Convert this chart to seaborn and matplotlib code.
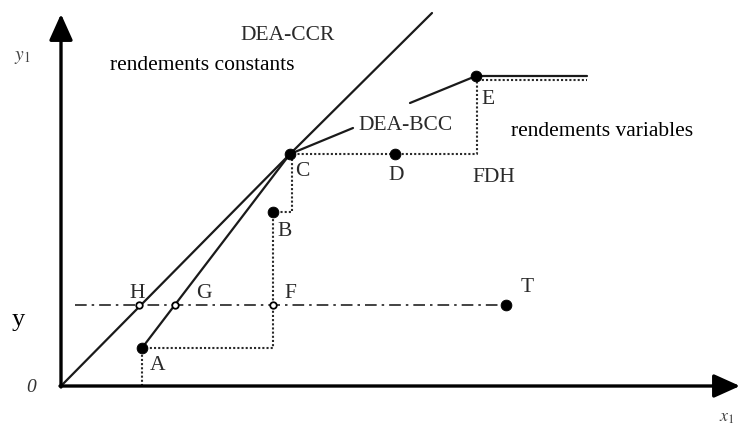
import matplotlib
matplotlib.use("Agg")
import matplotlib.pyplot as plt
import seaborn as sns

sns.set_style("white")
plt.rcParams['font.family'] = ['Liberation Serif', 'DejaVu Serif']
plt.rcParams['mathtext.fontset'] = 'stix'

# observed units (x1 input, y1 output)
names = ["A", "B", "C", "D", "E", "T"]
unit_x = [8.1, 21.2, 22.9, 33.4, 41.5, 44.5]
unit_y = [3.8, 17.4, 23.2, 23.2, 31.0, 8.1]

# projections of T on the level y
proj_names = ["H", "G", "F"]
proj_x = [7.8, 11.4, 21.2]
proj_y = [8.1, 8.1, 8.1]

# DEA-CCR frontier (constant returns)
ccr_x = [0, 22.9, 37.1]
ccr_y = [0, 23.2, 37.3]

# DEA-BCC frontier (variable returns), broken around its label
bcc1_x = [8.1, 22.9, 29.2]
bcc1_y = [3.8, 23.2, 25.8]
bcc2_x = [34.9, 41.5, 52.6]
bcc2_y = [28.3, 31.0, 31.0]

# FDH staircase
fdh_x = [8.1, 8.1, 21.2, 21.2, 23.1, 23.1, 41.6, 41.6, 52.6]
fdh_y = [0, 3.8, 3.8, 17.4, 17.4, 23.2, 23.2, 30.6, 30.6]

# level y of unit T
lvl_x = [1.4, 44.5]
lvl_y = [8.1, 8.1]

fig = plt.figure(figsize=(7.41, 4.25), dpi=100)
ax = fig.add_axes([0, 0, 1, 1])

sns.lineplot(x=fdh_x, y=fdh_y, sort=False, estimator=None, ax=ax,
             color="#2a2a2a", lw=1.5, linestyle=(0, (1, 1)))
sns.lineplot(x=lvl_x, y=lvl_y, sort=False, estimator=None, ax=ax,
             color="#222222", lw=1.2, linestyle=(0, (7, 3, 1.5, 3)))
sns.lineplot(x=ccr_x, y=ccr_y, sort=False, estimator=None, ax=ax,
             color="#1a1a1a", lw=1.6)
sns.lineplot(x=bcc1_x, y=bcc1_y, sort=False, estimator=None, ax=ax,
             color="#1a1a1a", lw=1.6)
sns.lineplot(x=bcc2_x, y=bcc2_y, sort=False, estimator=None, ax=ax,
             color="#1a1a1a", lw=1.6)

sns.scatterplot(x=unit_x, y=unit_y, ax=ax, color="black", s=60,
                edgecolor="black", zorder=5)
sns.scatterplot(x=proj_x, y=proj_y, ax=ax, color="white", s=22,
                edgecolor="black", linewidth=1.3, zorder=5)

# axes drawn as arrows
arrow = dict(arrowstyle="-|>,head_length=0.8,head_width=0.36", lw=2.4,
             color="black", shrinkA=0, shrinkB=0, mutation_scale=20)
ax.annotate("", xy=(0, 37.2), xytext=(0, -0.1), arrowprops=arrow)
ax.annotate("", xy=(67.9, 0), xytext=(-0.1, 0), arrowprops=arrow)

lab = dict(fontsize=15.5, color="#2a2a2a", ha="center", va="center")
ax.text(22.7, 35.1, "DEA-CCR", **lab)
ax.text(34.5, 26.0, "DEA-BCC", **lab)
ax.text(43.3, 20.8, "FDH", **lab)
ax.text(14.1, 32.0, "rendements constants", fontsize=15.5, color="black",
        ha="center", va="center")
ax.text(54.1, 25.4, "rendements variables", fontsize=15.5, color="black",
        ha="center", va="center")

pt_lab = {"A": (9.7, 2.1), "B": (22.4, 15.4), "C": (24.1, 21.5),
          "D": (33.5, 21.1), "E": (42.7, 28.7), "T": (46.6, 9.8),
          "H": (7.6, 9.3), "G": (14.3, 9.3), "F": (22.9, 9.2)}
for k, (tx, ty) in pt_lab.items():
    ax.text(tx, ty, k, **lab)

ax.text(-3.9, 32.9, r"$y_1$", fontsize=14, color="#444444",
        ha="center", va="center")
ax.text(66.6, -3.1, r"$x_1$", fontsize=13, color="#444444",
        ha="center", va="center")
ax.text(-4.3, 6.6, "y", fontsize=19, color="black", ha="center", va="center")
ax.text(-3.0, -0.1, "0", fontsize=14, color="#333333", style="italic",
        ha="center", va="center")

ax.set_xlim(-6.1, 68.0)
ax.set_ylim(-3.9, 38.6)
ax.axis("off")

fig.savefig("out.png", dpi=100)
